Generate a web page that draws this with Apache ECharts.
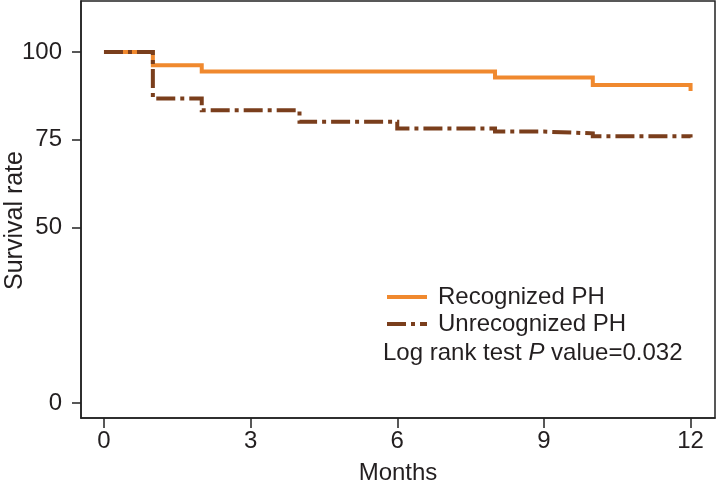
<!DOCTYPE html>
<html>
<head>
<meta charset="utf-8">
<script src="https://cdn.jsdelivr.net/npm/echarts@6/dist/echarts.min.js"></script>
<style>html,body{margin:0;padding:0;background:#fff;}#c{width:716px;height:481px;}</style>
</head>
<body>
<div id="c"></div>
<script>
const seriesNames = ['Recognized PH', 'Unrecognized PH'];
const recognizedMonths = [0, 1, 2, 8, 10, 12];
const recognizedSurvival = [100, 96.2, 94.4, 92.7, 90.6, 88.9];
const unrecognizedMonths = [0, 1, 2, 4, 6, 8, 9, 10, 12];
const unrecognizedSurvival = [100, 86.7, 83.4, 80.1, 78.2, 77.3, 76.8, 76.0, 75.6];
const xTicks = [0, 3, 6, 9, 12];
const yTicks = [0, 50, 75, 100];
const pValueText = 'Log rank test {i|P} value=0.032';

const zip = (xs, ys) => xs.map((x, i) => [x, ys[i]]);
const FONT = 'Liberation Sans, Arial, sans-serif';
const TXT = '#231f20';

const chart = echarts.init(document.getElementById('c'), null, {renderer: 'canvas'});
chart.setOption({
  animation: false,
  backgroundColor: '#fff',
  grid: {left: 81, right: 1, top: 1, bottom: 63, show: true, borderColor: '#222', borderWidth: 1.5,
         backgroundColor: 'transparent', containLabel: false, outerBoundsMode: 'none'},
  xAxis: {
    type: 'value', min: -0.47, max: 12.5,
    name: 'Months', nameLocation: 'middle', nameGap: 43, nameMoveOverlap: false,
    nameTextStyle: {fontSize: 24, color: TXT, fontFamily: FONT},
    axisLine: {show: true, onZero: false, lineStyle: {color: '#222', width: 1.5}},
    axisTick: {show: true, length: 10, inside: false, customValues: xTicks, lineStyle: {color: '#222', width: 1.5}},
    axisLabel: {customValues: xTicks, fontSize: 24, color: TXT, fontFamily: FONT, margin: 11},
    splitLine: {show: false}
  },
  yAxis: {
    type: 'value', min: -4.26, max: 114.5,
    name: 'Survival rate', nameLocation: 'middle', nameGap: 53, nameRotate: 90, nameMoveOverlap: false,
    nameTextStyle: {fontSize: 25, color: TXT, fontFamily: FONT, padding: [0, 22, 0, 0]},
    axisLine: {show: true, onZero: false, lineStyle: {color: '#222', width: 1.5}},
    axisTick: {show: true, length: 9, inside: false, customValues: yTicks, lineStyle: {color: '#222', width: 1.5}},
    axisLabel: {customValues: yTicks, fontSize: 24, color: TXT, fontFamily: FONT, margin: 19},
    splitLine: {show: false}
  },
  legend: {
    orient: 'vertical', left: 380, top: 280,
    itemWidth: 40, itemHeight: 14, itemGap: 3,
    data: seriesNames,
    itemStyle: {opacity: 0},
    lineStyle: {width: 4},
    textStyle: {fontSize: 24, color: TXT, fontFamily: FONT, padding: [0, 0, 0, 6]}
  },
  graphic: [{
    type: 'text', left: 383, top: 341,
    style: {
      text: pValueText, fontSize: 24, fill: TXT, fontFamily: FONT,
      rich: {i: {fontSize: 24, fontStyle: 'italic', fill: TXT, fontFamily: FONT}}
    }
  }],
  series: [
    {
      name: seriesNames[0], type: 'line', step: 'end', showSymbol: false, symbol: 'none',
      data: zip(recognizedMonths, recognizedSurvival),
      lineStyle: {color: '#f0892e', width: 4, cap: 'butt', join: 'miter'},
      itemStyle: {color: '#f0892e'}, z: 2
    },
    {
      name: seriesNames[1], type: 'line', step: 'end', showSymbol: false, symbol: 'none',
      data: zip(unrecognizedMonths, unrecognizedSurvival),
      lineStyle: {color: '#7a3e1c', width: 4, type: [19, 5, 4, 5], cap: 'butt', join: 'miter'},
      itemStyle: {color: '#7a3e1c'}, z: 3
    }
  ]
});
</script>
</body>
</html>
